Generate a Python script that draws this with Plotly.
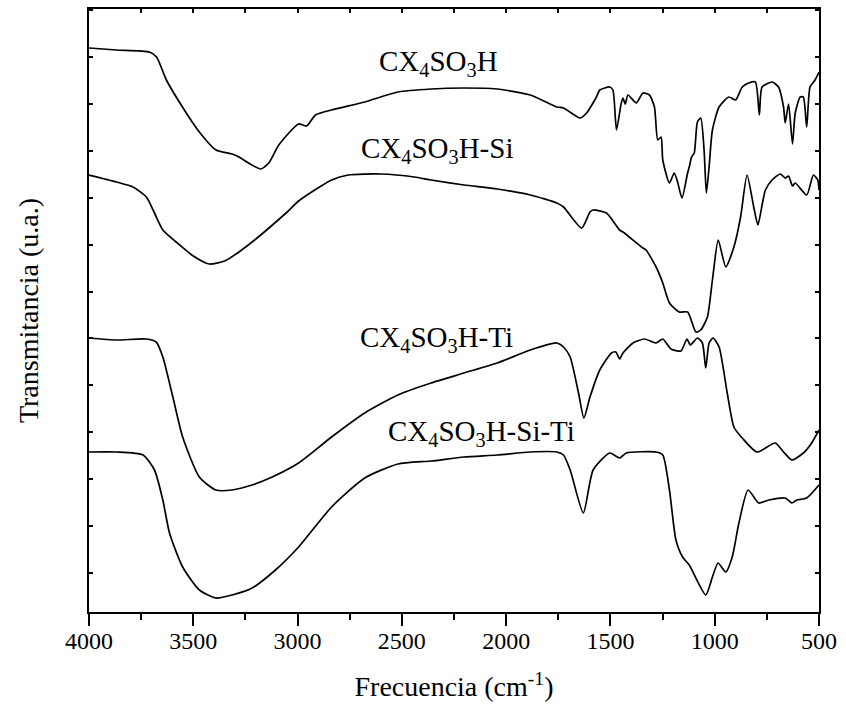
import plotly.graph_objects as go

# ---- data (wavenumber cm^-1, transmittance in arbitrary units) ----
wn_a = [4000, 3868, 3710, 3676, 3629, 3552, 3471, 3391, 3314, 3281, 3219, 3176, 3138, 3090, 2995, 2957,
        2914, 2837, 2678, 2519, 2360, 2202, 2043, 1884, 1757, 1725, 1646, 1614, 1598, 1567, 1551, 1503,
        1488, 1471, 1448, 1440, 1429, 1416, 1376, 1344, 1313, 1289, 1273, 1257, 1249, 1217, 1194, 1178,
        1157, 1130, 1122, 1111, 1098, 1083, 1067, 1051, 1040, 1027, 1011, 979, 932, 900, 868, 837, 805,
        786, 773, 725, 694, 670, 662, 646, 627, 614, 590, 575, 559, 543, 519, 500]
t_a = [564, 562, 560, 555, 532, 505, 480, 462, 458, 455, 447, 443, 449, 467, 488, 486,
       497, 502, 510, 520, 523, 524, 523, 517, 505, 504, 494, 499, 504, 515, 522, 525,
       522, 482, 509, 514, 508, 517, 509, 519, 517, 505, 472, 475, 452, 429, 439, 430,
       414, 439, 445, 455, 459, 490, 494, 462, 419, 445, 482, 505, 515, 512, 525, 529, 530,
       497, 525, 530, 525, 505, 489, 508, 468, 499, 515, 515, 485, 525, 532, 540]

wn_b = [4000, 3868, 3789, 3725, 3686, 3646, 3582, 3500, 3424, 3350, 3281, 3200, 3154, 3050, 2995, 2837,
        2757, 2600, 2440, 2360, 2202, 2043, 1884, 1757, 1725, 1638, 1598, 1583, 1519, 1456, 1440, 1344,
        1329, 1281, 1249, 1217, 1170, 1130, 1090, 1067, 1035, 1011, 983, 947, 908, 876, 845, 813, 793,
        771, 757, 725, 686, 662, 646, 627, 614, 559, 527, 506, 500]
t_b = [437, 430, 425, 415, 399, 382, 370, 356, 348, 351, 360, 373, 381, 400, 411, 432,
       437, 438, 435, 432, 427, 423, 417, 409, 405, 384, 400, 402, 399, 382, 380, 364,
       362, 345, 329, 309, 300, 300, 280, 282, 295, 332, 372, 345, 365, 395, 437, 405, 387,
       409, 422, 432, 438, 434, 436, 426, 429, 417, 437, 432, 422]

wn_c = [4000, 3868, 3725, 3678, 3646, 3598, 3551, 3471, 3392, 3314, 3218, 3122, 2995, 2837, 2678, 2519,
        2360, 2202, 2043, 1884, 1757, 1725, 1693, 1653, 1627, 1598, 1551, 1495, 1474, 1456, 1440, 1392,
        1337, 1281, 1249, 1210, 1162, 1133, 1117, 1083, 1059, 1043, 1027, 1008, 979, 940, 908, 868, 797,
        710, 670, 630, 575, 535, 500]
t_c = [274, 272, 273, 270, 255, 215, 175, 135, 122, 122, 127, 135, 149, 175, 199, 217,
       229, 239, 249, 262, 269, 265, 255, 219, 194, 215, 242, 259, 260, 253, 259, 269,
       273, 269, 273, 263, 261, 273, 267, 274, 269, 244, 269, 274, 265, 219, 185, 174, 160,
       169, 160, 152, 159, 169, 182]

wn_d = [4000, 3868, 3741, 3686, 3646, 3614, 3551, 3471, 3392, 3314, 3218, 3106, 2995, 2837, 2678, 2519,
        2360, 2202, 2043, 1884, 1757, 1725, 1693, 1630, 1583, 1503, 1456, 1424, 1281, 1249, 1217, 1186,
        1154, 1122, 1043, 1011, 984, 947, 916, 884, 840, 789, 741, 662, 630, 606, 559, 500]
t_d = [160, 160, 157, 142, 112, 79, 45, 22, 14, 17, 24, 42, 65, 105, 134, 148,
       151, 155, 157, 160, 160, 157, 142, 99, 142, 159, 154, 159, 160, 157, 122, 72,
       55, 47, 17, 35, 49, 40, 55, 89, 122, 109, 112, 114, 109, 112, 114, 127]

series_names = ["CX<sub>4</sub>SO<sub>3</sub>H", "CX<sub>4</sub>SO<sub>3</sub>H-Si",
                "CX<sub>4</sub>SO<sub>3</sub>H-Ti", "CX<sub>4</sub>SO<sub>3</sub>H-Si-Ti"]
label_x = [2322, 2333, 2333, 2118]
label_y = [549, 462, 273, 179]

FONT = "Liberation Serif, Times New Roman, serif"

fig = go.Figure()
for wn, t, name in zip([wn_a, wn_b, wn_c, wn_d], [t_a, t_b, t_c, t_d], series_names):
    fig.add_trace(go.Scatter(x=wn, y=t, mode="lines", name=name,
                             line=dict(color="black", width=1.7, shape="spline", smoothing=0.6),
                             showlegend=False, hoverinfo="skip"))
# invisible trace to hold the top mirror axis
fig.add_trace(go.Scatter(x=[4000, 500], y=[0, 0], xaxis="x2", mode="lines",
                         line=dict(width=0), showlegend=False, hoverinfo="skip"))

for name, lx, ly in zip(series_names, label_x, label_y):
    fig.add_annotation(x=lx, y=ly, text=name, showarrow=False,
                       font=dict(family=FONT, size=29, color="black"),
                       xanchor="center", yanchor="middle")

fig.update_layout(
    width=846, height=711,
    margin=dict(l=89, r=22, t=9, b=99),
    paper_bgcolor="white", plot_bgcolor="white",
    font=dict(family=FONT, color="black"),
    xaxis=dict(range=[4000, 500], tick0=0, dtick=500, ticks="outside", ticklen=12, tickwidth=2,
               tickcolor="black", showline=True, linewidth=2, linecolor="black", mirror=False,
               showgrid=False, zeroline=False, tickfont=dict(family=FONT, size=24),
               ticklabelstandoff=-6,
               minor=dict(dtick=250, tick0=0, ticks="outside", ticklen=6, tickwidth=2, tickcolor="black"),
               title=dict(text="Frecuencia (cm<sup>-1</sup>)", font=dict(family=FONT, size=28), standoff=24)),
    xaxis2=dict(range=[4000, 500], overlaying="x", side="top", anchor="y", tick0=0, dtick=250,
                ticks="inside", ticklen=4, tickwidth=2, tickcolor="black", showticklabels=False,
                showline=True, linewidth=2, linecolor="black", showgrid=False, zeroline=False),
    yaxis=dict(range=[0, 603], tick0=39.1, dtick=46.9, ticks="inside", ticklen=4, tickwidth=2,
               tickcolor="black", showticklabels=False, showline=True, linewidth=2, linecolor="black",
               mirror="ticks", showgrid=False, zeroline=False,
               title=dict(text="Transmitancia (u.a.)", font=dict(family=FONT, size=28), standoff=40)),
)

fig.write_html("out.html")
